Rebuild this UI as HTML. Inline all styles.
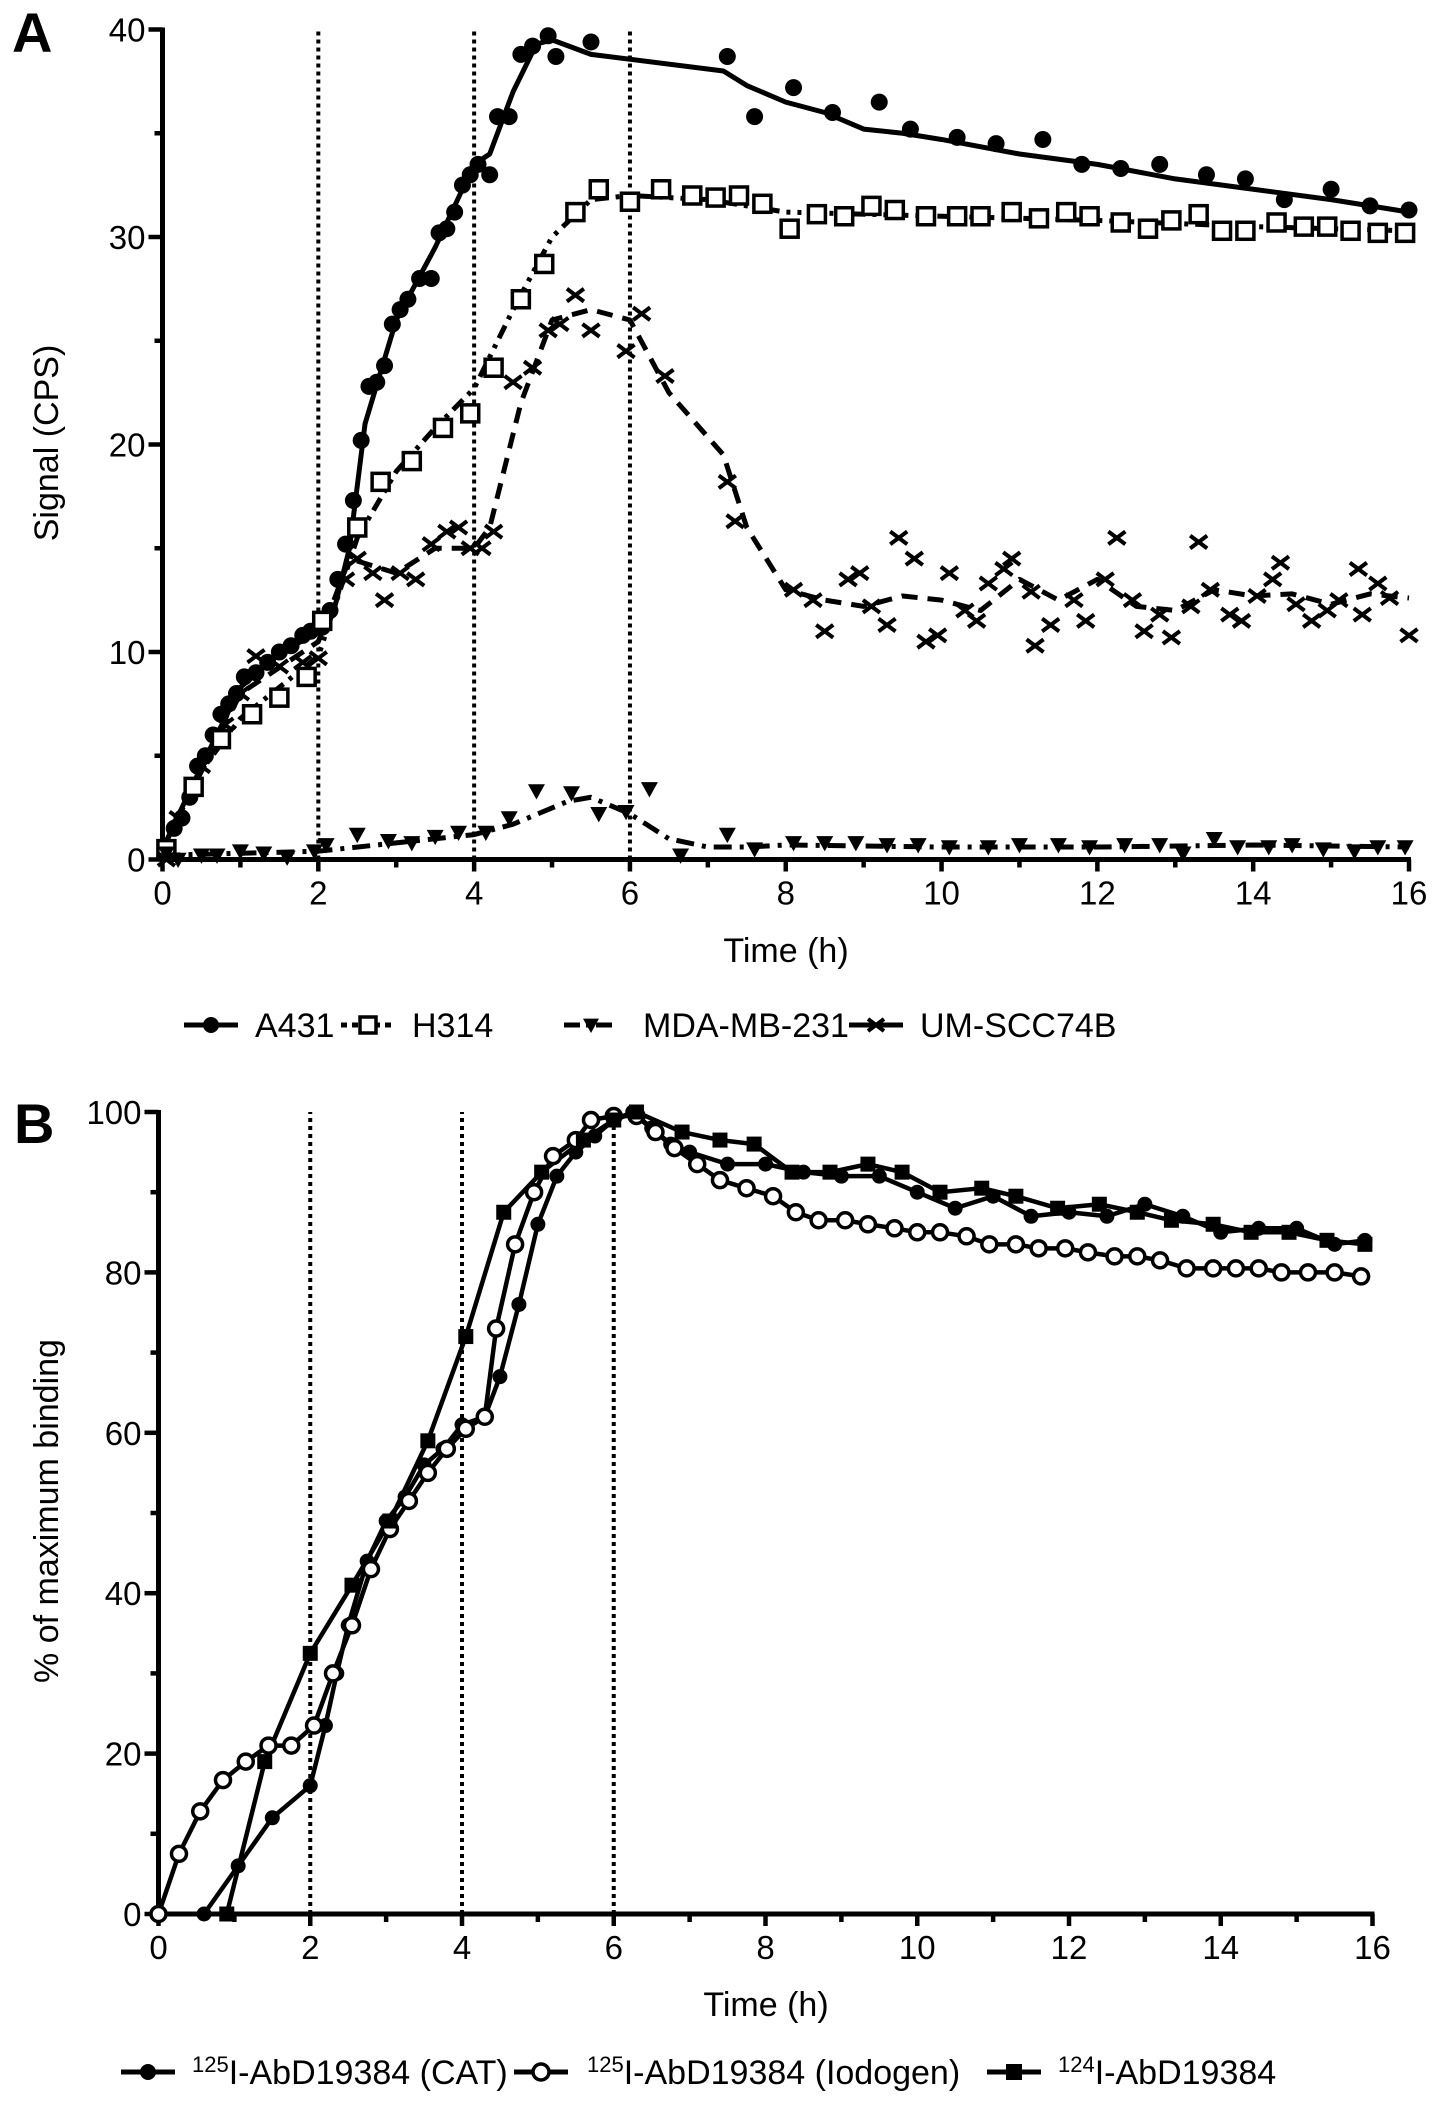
<!DOCTYPE html>
<html><head><meta charset="utf-8"><style>
html,body{margin:0;padding:0;background:#fff;}
svg{display:block;font-family:"Liberation Sans",Arial,sans-serif;}
</style></head><body>
<svg id="chart" width="1441" height="2107" viewBox="0 0 1441 2107" xmlns="http://www.w3.org/2000/svg">
<text x="12" y="52" font-size="56" font-weight="bold">A</text>
<text x="14" y="1143" font-size="56" font-weight="bold">B</text>
<text transform="translate(58,443) rotate(-90)" text-anchor="middle" font-size="34">Signal (CPS)</text>
<text transform="translate(58,1511) rotate(-90)" text-anchor="middle" font-size="34">% of maximum binding</text>
<text x="786" y="962" text-anchor="middle" font-size="34">Time (h)</text>
<text x="766" y="2016" text-anchor="middle" font-size="34">Time (h)</text>
<g id="ga"></g><g id="gb"></g>
</svg>
<script>
// Panel A data
const aTicksX=[0,2,4,6,8,10,12,14,16];
const aTicksY=[0,10,20,30,40];
const a431T=[0.05,0.15,0.25,0.35,0.45,0.55,0.65,0.75,0.85,0.95,1.05,1.2,1.35,1.5,1.65,1.8,1.9,2.05,2.15,2.25,2.35,2.45,2.55,2.65,2.75,2.85,2.95,3.05,3.15,3.3,3.45,3.55,3.65,3.75,3.85,3.95,4.05,4.2,4.3,4.45,4.6,4.75,4.95,5.05,5.5,7.25,7.6,8.1,8.6,9.2,9.6,10.2,10.7,11.3,11.8,12.3,12.8,13.4,13.9,14.4,15,15.5,16];
const a431V=[0.5,1.5,2,3,4.5,5,6,7,7.5,8,8.8,9,9.5,10,10.3,10.8,11,11.2,12,13.5,15.2,17.3,20.2,22.8,23,23.8,25.8,26.5,27,28,28,30.2,30.4,31.2,32.5,33,33.5,33,35.8,35.8,38.8,39.2,39.7,38.7,39.4,38.7,35.8,37.2,36,36.5,35.2,34.8,34.5,34.7,33.5,33.3,33.5,33,32.8,31.8,32.3,31.5,31.3];
const a431FitT=[0,0.5,1,1.5,2,2.2,2.4,2.6,3,3.5,4,4.2,4.5,4.8,5,5.5,7.2,7.5,8,8.5,9,9.5,10,11,12,13,14,15,16];
const a431FitV=[0.5,4.5,8.3,9.9,11,12,15,21,26,29.5,33.5,34,37,39.3,39.5,38.8,38,37.3,36.5,36,35.2,35,34.7,34,33.5,32.8,32.3,31.8,31.2];
const h314T=[0.05,0.4,0.75,1.15,1.5,1.85,2.05,2.5,2.8,3.2,3.6,3.95,4.25,4.6,4.9,5.3,5.6,6.0,6.4,6.8,7.1,7.4,7.7,8.05,8.4,8.75,9.1,9.4,9.8,10.2,10.5,10.9,11.25,11.6,11.9,12.3,12.65,12.95,13.3,13.6,13.9,14.3,14.65,14.95,15.25,15.6,15.95];
const h314V=[0.5,3.5,5.8,7,7.8,8.8,11.5,16,18.2,19.2,20.8,21.5,23.7,27,28.7,31.2,32.3,31.7,32.3,32,31.9,32,31.6,30.4,31.1,31,31.5,31.3,31,31,31,31.2,30.9,31.2,31,30.7,30.4,30.8,31.1,30.3,30.3,30.7,30.5,30.5,30.3,30.2,30.2];
const h314FitT=[0,0.5,1,1.5,2,2.5,3,3.5,4,4.5,5,5.5,6,7,8,10,12,14,16];
const h314FitV=[0.5,4.3,6.8,8.3,9.8,15.5,18.7,20.8,22.7,26.5,30,31.8,32,31.8,31.2,31,30.8,30.5,30.3];
const mdaT=[0.05,0.2,0.5,0.7,1.0,1.3,1.6,1.95,2.1,2.5,2.9,3.2,3.5,3.8,4.15,4.45,4.8,5.25,5.6,5.95,6.25,6.65,7.25,7.6,8.1,8.5,8.9,9.3,9.7,10.1,10.6,11.0,11.5,11.9,12.35,12.8,13.1,13.5,13.8,14.2,14.5,14.9,15.3,15.6,15.95];
const mdaV=[0.3,0,0.2,0.2,0.4,0.3,0.1,0.4,0.7,1.2,0.9,0.8,1.1,1.3,1.3,2,3.3,3.2,2.2,2.3,3.4,0.2,1.2,0.5,0.8,0.8,0.8,0.7,0.7,0.6,0.6,0.7,0.7,0.6,0.7,0.7,0.3,1.0,0.6,0.6,0.7,0.5,0.4,0.6,0.6];
const mdaFitT=[0,2,3,4,4.5,5.2,5.5,6,6.5,7,7.5,8,10,12,14,16];
const mdaFitV=[0.2,0.4,0.8,1.2,1.7,2.8,3,2.2,1,0.6,0.6,0.7,0.6,0.6,0.7,0.6];
const umT=[0.05,0.2,0.5,0.8,1.0,1.2,1.5,1.8,2.0,2.35,2.5,2.7,2.85,3.05,3.25,3.45,3.65,3.8,3.95,4.1,4.25,4.5,4.75,4.95,5.1,5.3,5.5,5.95,6.15,6.45,7.25,7.35,8.1,8.35,8.5,8.8,8.95,9.1,9.3,9.45,9.65,9.8,9.95,10.1,10.3,10.45,10.6,10.8,10.9,11.15,11.2,11.4,11.7,11.85,12.1,12.25,12.45,12.6,12.8,12.95,13.2,13.3,13.45,13.7,13.85,14.05,14.25,14.35,14.55,14.75,14.95,15.1,15.35,15.4,15.6,15.75,16.0];
const umV=[0,2,4.5,6.5,8,9.8,9.3,9.5,9.7,13.5,14.5,13.8,12.5,13.8,13.5,15.2,15.8,16,15,15,15.8,23,23.7,25.5,25.8,27.2,25.5,24.5,26.3,23.3,18.2,16.3,13,12.5,11,13.5,13.8,12.2,11.3,15.5,14.5,10.5,10.8,13.8,12,11.5,13.3,14,14.5,12.9,10.3,11.3,12.5,11.5,13.5,15.5,12.5,11,11.8,10.7,12.2,15.3,13,11.8,11.5,12.7,13.5,14.3,12.3,11.5,12,12.5,14,11.8,13.3,12.6,10.8];
const umFitT=[0,1,2,2.4,3,3.5,4,4.2,4.6,5,5.5,6,6.5,7.2,7.5,8,8.5,9,9.5,10,10.5,11,11.5,12,12.5,13,13.5,14,14.5,15,15.5,16];
const umFitV=[0.5,8,10.5,14.5,13.8,15,15,16,22,26,26.5,26,22.5,19.5,16,13,12.5,12.2,12.7,12.5,12,13.5,12.5,13.5,12.2,12,13,12.7,12.8,12.3,12.8,12.6];
// Panel B data
const bTicksX=[0,2,4,6,8,10,12,14,16];
const bTicksY=[0,20,40,60,80,100];
const catT=[0,0.6,1.05,1.5,2.0,2.2,2.35,2.5,2.75,3.0,3.25,3.5,3.75,4.0,4.3,4.5,4.75,5.0,5.25,5.5,5.75,6.0,6.25,6.5,6.75,7,7.5,8,8.5,9,9.5,10,10.5,11,11.5,12,12.5,13,13.5,14,14.5,15,15.5,15.9];
const catV=[0,0,6,12,16,23.5,30,36,44,49,52,56,58,61,62,67,76,86,92,95,97,99,100,98,96,95,93.5,93.5,92.5,92,92,90,88,89.5,87,87.5,87,88.5,87,85,85.5,85.5,83.5,84];
const iodT=[0,0.27,0.55,0.85,1.15,1.45,1.75,2.05,2.3,2.55,2.8,3.05,3.3,3.55,3.8,4.05,4.3,4.45,4.7,4.95,5.2,5.5,5.7,6.0,6.3,6.55,6.8,7.1,7.4,7.75,8.1,8.4,8.7,9.05,9.35,9.7,10,10.3,10.65,10.95,11.3,11.6,11.95,12.25,12.6,12.9,13.2,13.55,13.9,14.2,14.5,14.8,15.15,15.5,15.85];
const iodV=[0,7.5,12.8,16.7,19,21,21,23.5,30,36,43,48,51.5,55,58,60.5,62,73,83.5,90,94.5,96.5,99,99.5,99.5,97.5,95.5,93.5,91.5,90.5,89.5,87.5,86.5,86.5,86,85.5,85,85,84.5,83.5,83.5,83,83,82.5,82,82,81.5,80.5,80.5,80.5,80.5,80,80,80,79.5];
const i124T=[0.9,1.4,2.0,2.55,3.05,3.55,4.05,4.55,5.05,5.6,6.0,6.3,6.9,7.4,7.85,8.35,8.85,9.35,9.8,10.3,10.85,11.3,11.85,12.4,12.9,13.35,13.9,14.4,14.9,15.4,15.9];
const i124V=[0,19,32.5,41,49,59,72,87.5,92.5,96.5,99,100,97.5,96.5,96,92.5,92.5,93.5,92.5,90,90.5,89.5,88,88.5,87.5,86.5,86,85,85,84,83.5];

const NS='http://www.w3.org/2000/svg';
function mk(parent,tag,attrs){const e=document.createElementNS(NS,tag);for(const k in attrs)e.setAttribute(k,attrs[k]);parent.appendChild(e);return e;}
function axes(g,x0,x1,y0,y1,xmax,ymax,xt,yt,minorY){
  const sx=v=>x0+(x1-x0)*v/xmax, sy=v=>y0-(y0-y1)*v/ymax;
  let e=mk(g,'line',{x1:x0,y1:y0,x2:x1+2,y2:y0,stroke:'#000','stroke-width':5});
  
  e=mk(g,'line',{x1:x0,y1:y0+2,x2:x0,y2:y1-2,stroke:'#000','stroke-width':5});
  
  for(let v=0;v<=xmax;v++){
    const maj=v%2===0;
    mk(g,'line',{x1:sx(v),y1:y0,x2:sx(v),y2:y0+(maj?12:8),stroke:'#000','stroke-width':4.5});
  }
  xt.forEach(v=>{const t=mk(g,'text',{x:sx(v),y:y0+45,'text-anchor':'middle','font-size':33});t.textContent=v;
    });
  for(let v=0;v<=ymax;v+=minorY){
    const maj=yt.includes(v);
    mk(g,'line',{x1:x0-(maj?14:8),y1:sy(v),x2:x0,y2:sy(v),stroke:'#000','stroke-width':4.5});
  }
  yt.forEach(v=>{const t=mk(g,'text',{x:x0-17,y:sy(v)+12,'text-anchor':'end','font-size':33});t.textContent=v;
    });
  [2,4,6].forEach(v=>{const l=mk(g,'line',{x1:sx(v),y1:y0,x2:sx(v),y2:y1,stroke:'#000','stroke-width':4,'stroke-dasharray':'4 4'});
    });
  return [sx,sy];
}
function line(g,sx,sy,T,V,dash,w,name){
  const p=mk(g,'polyline',{points:T.map((t,i)=>sx(t)+','+sy(V[i])).join(' '),fill:'none',stroke:'#000','stroke-width':w,'stroke-dasharray':dash,'stroke-linejoin':'round'});
  
}
function marker(g,type,x,y,r,name){
  let e;
  if(type==='dot') e=mk(g,'circle',{cx:x,cy:y,r:r,fill:'#000'});
  else if(type==='ocircle') e=mk(g,'circle',{cx:x,cy:y,r:r,fill:'#fff',stroke:'#000','stroke-width':3.5});
  else if(type==='osq') e=mk(g,'rect',{x:x-r,y:y-r,width:2*r,height:2*r,fill:'#fff',stroke:'#000','stroke-width':3.5});
  else if(type==='sq') e=mk(g,'rect',{x:x-r,y:y-r,width:2*r,height:2*r,fill:'#000'});
  else if(type==='tri') e=mk(g,'polygon',{points:`${x-r},${y-r*0.8} ${x+r},${y-r*0.8} ${x},${y+r}`,fill:'#000'});
  else if(type==='x') e=mk(g,'path',{d:`M${x-r},${y-r*0.75}L${x+r},${y+r*0.75}M${x-r},${y+r*0.75}L${x+r},${y-r*0.75}`,stroke:'#000','stroke-width':4,fill:'none'});
  
  
}
function points(g,sx,sy,T,V,type,r,name){T.forEach((t,i)=>marker(g,type,sx(t),sy(V[i]),r,name));}
function legend(g,x,tx,y,type,dash,label,r,sup){
  const l=mk(g,'line',{x1:x,y1:y,x2:x+54,y2:y,stroke:'#000','stroke-width':5,'stroke-dasharray':dash});
  
  marker(g,type,x+27,y,r,'legend-marker');
  const t=mk(g,'text',{x:tx,y:y+12,'font-size':34});
  if(sup){const s=mk(t,'tspan',{'font-size':22,dy:-12});s.textContent=sup;const r2=mk(t,'tspan',{dy:12});r2.textContent=label;}
  else t.textContent=label;
  
}
// Panel A
const ga=document.getElementById('ga');
const [ax,ay]=axes(ga,162.5,1409,859.5,29.5,16,40,aTicksX,aTicksY,5);
line(ga,ax,ay,a431FitT,a431FitV,'none',5,'a431-fit-line');
line(ga,ax,ay,h314FitT,h314FitV,'4 7 4 7 14 7',5,'h314-fit-line');
line(ga,ax,ay,mdaFitT,mdaFitV,'18 8 4 8',5,'mda-mb-231-fit-line');
line(ga,ax,ay,umFitT,umFitV,'16 10',5,'um-scc74b-fit-line');
points(ga,ax,ay,a431T,a431V,'dot',8.5,'a431-point');
points(ga,ax,ay,h314T,h314V,'osq',8.5,'h314-point');
points(ga,ax,ay,mdaT,mdaV,'tri',8.5,'mda-mb-231-point');
points(ga,ax,ay,umT,umV,'x',8.5,'um-scc74b-point');
legend(ga,184,255,1025,'dot','none','A431',8);
legend(ga,341,412,1025,'osq','6 5','H314',8);
legend(ga,564,643,1025,'tri','16 6 4 6','MDA-MB-231',8);
legend(ga,849,920,1025,'x','none','UM-SCC74B',8);
// Panel B
const gb=document.getElementById('gb');
const [bx,by]=axes(gb,158.5,1372.5,1914,1112,16,100,bTicksX,bTicksY,10);
line(gb,bx,by,catT,catV,'none',4.5,'cat-line');
line(gb,bx,by,iodT,iodV,'none',4.5,'iodogen-line');
line(gb,bx,by,i124T,i124V,'none',4.5,'i124-line');
points(gb,bx,by,catT,catV,'dot',7.5,'cat-point');
points(gb,bx,by,iodT,iodV,'ocircle',7.5,'iodogen-point');
points(gb,bx,by,i124T,i124V,'sq',7.5,'i124-point');
legend(gb,121,192,2072,'dot','none','I-AbD19384 (CAT)',8,'125');
legend(gb,514,587,2072,'ocircle','none','I-AbD19384 (Iodogen)',8,'125');
legend(gb,987,1058,2072,'sq','none','I-AbD19384',8,'124');
</script>
</body></html>
